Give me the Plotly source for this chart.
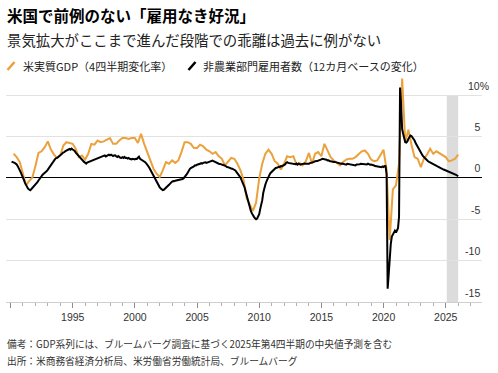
import pandas as pd
import plotly.graph_objects as go

# ---------------- data ----------------
# US real GDP, 4-quarter % change, 1990Q1 .. 2025Q4 (2025Q4 = Bloomberg survey median)
gdp_1990s = [2.9, 2.5, 1.9, 0.6, -0.9, -0.4, 0.0, 1.4, 3.0, 3.2, 3.7, 4.4,
             3.4, 2.8, 2.4, 2.7, 3.9, 4.3, 4.2, 4.1, 3.5, 2.5, 2.7, 2.2,
             2.9, 4.1, 4.0, 4.5, 4.3, 4.4, 4.6, 4.8, 4.1, 4.1, 4.5, 4.8,
             4.8, 4.7, 4.8, 4.8]
gdp_2000s = [4.2, 5.3, 4.1, 3.0, 2.2, 1.1, 0.5, 0.1, 0.9, 1.9, 1.7, 2.1,
             1.8, 2.1, 3.1, 4.3, 4.3, 4.1, 3.6, 3.6, 4.0, 3.8, 3.4, 3.2,
             2.9, 3.1, 2.6, 2.3, 1.5, 1.9, 2.4, 2.3, 1.7, 0.9, -0.3, -2.5,
             -3.3, -4.0, -3.0, -0.1]
gdp_2010s = [1.7, 2.9, 3.4, 2.9, 2.0, 1.7, 1.0, 1.7, 2.6, 2.5, 2.6, 1.6,
             1.8, 1.5, 2.0, 3.0, 1.7, 2.9, 3.1, 2.6, 4.1, 3.3, 2.5, 2.1,
             1.8, 1.5, 1.9, 2.2, 2.3, 2.3, 2.5, 2.9, 3.2, 3.3, 2.9, 2.2,
             2.0, 2.1, 2.8, 3.4]
gdp_2020s = [0.9, -7.5, -1.4, -0.9, 1.7, 12.0, 4.3, 5.8, 4.0, 2.5, 2.3, 1.3,
             2.3, 2.8, 3.5, 2.9, 3.2, 3.0, 2.7, 2.5, 2.0, 2.1, 2.3, 2.8]

# Nonfarm payrolls, 12-month % change, Jan 1990 .. Dec 2025
payroll_1990s = [
    1.95, 1.92, 1.83, 1.80, 1.71, 1.62, 1.41, 1.20, 0.92, 0.63, 0.31, 0.10,
    -0.28, -0.62, -0.88, -1.10, -1.31, -1.42, -1.50, -1.38, -1.25, -1.12, -1.02, -0.84,
    -0.70, -0.52, -0.33, -0.12, 0.08, 0.25, 0.38, 0.50, 0.58, 0.70, 0.81, 0.98,
    1.18, 1.40, 1.52, 1.78, 1.96, 2.10, 2.25, 2.38, 2.40, 2.52, 2.60, 2.72,
    2.80, 2.92, 3.08, 3.10, 3.22, 3.28, 3.30, 3.42, 3.48, 3.40, 3.52, 3.42,
    3.38, 3.25, 3.05, 2.90, 2.72, 2.58, 2.45, 2.30, 2.18, 2.02, 1.92, 1.82,
    1.72, 1.85, 1.90, 1.98, 2.02, 2.10, 2.12, 2.20, 2.18, 2.28, 2.32, 2.40,
    2.42, 2.50, 2.48, 2.58, 2.60, 2.62, 2.70, 2.58, 2.68, 2.78, 2.80, 2.72,
    2.80, 2.72, 2.62, 2.70, 2.72, 2.60, 2.52, 2.62, 2.50, 2.42, 2.40, 2.48,
    2.40, 2.52, 2.40, 2.42, 2.32, 2.40, 2.30, 2.28, 2.22, 2.30, 2.28, 2.22]
payroll_2000s = [
    2.30, 2.28, 2.42, 2.55, 2.30, 2.22, 2.18, 2.10, 2.00, 1.88, 1.75, 1.62,
    1.40, 1.20, 0.95, 0.70, 0.48, 0.28, 0.08, -0.15, -0.45, -0.70, -0.95, -1.15,
    -1.30, -1.40, -1.48, -1.45, -1.35, -1.22, -1.12, -0.98, -0.85, -0.70, -0.55, -0.45,
    -0.40, -0.42, -0.35, -0.32, -0.30, -0.28, -0.30, -0.25, -0.22, -0.15, -0.08, 0.05,
    0.22, 0.42, 0.62, 0.88, 1.05, 1.18, 1.22, 1.32, 1.38, 1.50, 1.48, 1.58,
    1.60, 1.65, 1.70, 1.78, 1.72, 1.80, 1.82, 1.88, 1.80, 1.85, 1.92, 1.95,
    2.02, 2.12, 2.08, 2.00, 1.92, 1.88, 1.80, 1.78, 1.70, 1.68, 1.62, 1.60,
    1.58, 1.52, 1.48, 1.32, 1.30, 1.28, 1.20, 1.15, 1.12, 1.10, 1.05, 0.98,
    0.88, 0.72, 0.58, 0.40, 0.20, 0.02, -0.25, -0.50, -0.80, -1.20, -1.70, -2.20,
    -2.70, -3.20, -3.62, -4.00, -4.30, -4.60, -4.72, -4.90, -5.00, -4.92, -4.70, -4.40]
payroll_2010s = [
    -3.75, -3.35, -2.70, -1.80, -1.15, -0.82, -0.45, -0.12, 0.02, 0.38, 0.58, 0.72,
    0.88, 0.92, 1.02, 1.18, 1.20, 1.28, 1.32, 1.30, 1.42, 1.40, 1.45, 1.52,
    1.62, 1.80, 1.88, 1.80, 1.78, 1.75, 1.70, 1.72, 1.68, 1.70, 1.65, 1.72,
    1.60, 1.70, 1.62, 1.58, 1.65, 1.70, 1.66, 1.72, 1.70, 1.68, 1.72, 1.70,
    1.78, 1.80, 1.88, 1.90, 1.92, 2.00, 1.98, 2.02, 2.08, 2.10, 2.18, 2.22,
    2.30, 2.28, 2.20, 2.22, 2.18, 2.10, 2.12, 2.02, 1.98, 2.00, 1.96, 1.90,
    1.92, 1.88, 1.82, 1.78, 1.70, 1.72, 1.70, 1.72, 1.68, 1.62, 1.60, 1.58,
    1.70, 1.68, 1.62, 1.60, 1.62, 1.58, 1.52, 1.58, 1.50, 1.60, 1.58, 1.60,
    1.62, 1.70, 1.68, 1.70, 1.72, 1.70, 1.68, 1.62, 1.70, 1.62, 1.58, 1.60,
    1.58, 1.50, 1.48, 1.42, 1.40, 1.38, 1.32, 1.30, 1.32, 1.28, 1.38, 1.30]
payroll_2020s = [
    1.42, 1.40, 0.40, -13.40, -11.70, -8.90, -8.00, -7.10, -6.80, -6.50, -6.40, -6.60,
    -6.35, -6.10, -4.70, 10.90, 8.80, 5.90, 5.30, 4.50, 4.30, 4.25, 4.40, 4.70,
    4.85, 5.10, 5.05, 4.90, 4.75, 4.50, 4.20, 4.00, 3.75, 3.50, 3.25, 3.05,
    2.85, 2.65, 2.50, 2.35, 2.22, 2.10, 2.00, 1.92, 1.85, 1.75, 1.70, 1.62,
    1.55, 1.50, 1.42, 1.38, 1.30, 1.25, 1.18, 1.12, 1.05, 1.00, 0.95, 0.90,
    0.88, 0.82, 0.78, 0.72, 0.66, 0.60, 0.52, 0.48, 0.42, 0.35, 0.28, 0.18]

gdp_values = gdp_1990s + gdp_2000s + gdp_2010s + gdp_2020s
payroll_values = payroll_1990s + payroll_2000s + payroll_2010s + payroll_2020s
gdp_dates = pd.date_range("1990-03-31", periods=len(gdp_values), freq="QE")
payroll_dates = pd.date_range("1990-01-31", periods=len(payroll_values), freq="ME")

y_tick_vals = [-15, -10, -5, 0, 5, 10]
y_tick_text = ["-15", "-10", "-5", "0", "5", "10%"]
x_tick_start = "1995-01-01"

title = "米国で前例のない「雇用なき好況」"
subtitle = "景気拡大がここまで進んだ段階での乖離は過去に例がない"
legend_gdp = "米実質GDP（4四半期変化率）"
legend_payroll = "非農業部門雇用者数（12カ月ベースの変化）"
note = "備考：GDP系列には、ブルームバーグ調査に基づく2025年第4四半期の中央値予測を含む"
source = "出所：米商務省経済分析局、米労働省労働統計局、ブルームバーグ"

# ---------------- style ----------------
ORANGE = "#EBA13C"
BLACK = "#000000"
JP = "Noto Sans CJK JP"
LAT = "Liberation Sans, Arial, sans-serif"

W, H = 498, 373
L, R, T, B = 6, 16, 75, 71
PW, PH = W - L - R, H - T - B


def px(x):
    return (x - L) / PW


def py(y):
    return (H - B - y) / PH


fig = go.Figure()
fig.add_trace(go.Scatter(x=gdp_dates, y=gdp_values, mode="lines",
                         line=dict(color=ORANGE, width=2), name=legend_gdp))
fig.add_trace(go.Scatter(x=payroll_dates, y=payroll_values, mode="lines",
                         line=dict(color=BLACK, width=2), name=legend_payroll))

# shaded 2025 band
fig.add_shape(type="rect", xref="x", yref="y", x0="2025-01-31", x1="2026-01-01",
              y0=-15, y1=10, fillcolor="#dcdcdc", line=dict(width=0), layer="below")

# legend swatches
fig.add_shape(type="line", xref="paper", yref="paper", x0=px(7.5), y0=py(70), x1=px(14.5), y1=py(62),
              line=dict(color=ORANGE, width=2.5))
fig.add_shape(type="line", xref="paper", yref="paper", x0=px(188.5), y0=py(70), x1=px(195.5), y1=py(62),
              line=dict(color=BLACK, width=2.5))

pad = "\u00a0\u00a0\u00a0"
fig.update_layout(
    width=W, height=H,
    margin=dict(l=L, r=R, t=T, b=B, autoexpand=False),
    paper_bgcolor="white", plot_bgcolor="white",
    showlegend=False,
    xaxis=dict(
        type="date", automargin=False,
        range=["1989-08-20", "2027-12-02"],
        tick0=x_tick_start, dtick="M60", tickformat="%Y",
        ticks="outside", ticklen=5, tickwidth=1, tickcolor="#8c8c8c",
        minor=dict(dtick="M12", tick0=x_tick_start, ticks="outside", ticklen=2.5,
                   tickwidth=1, tickcolor="#b0b0b0", showgrid=False),
        showline=True, linecolor="#cfcfcf", linewidth=1,
        showgrid=False, zeroline=False,
        tickfont=dict(family=LAT, size=10.5, color="#333333"),
    ),
    yaxis=dict(
        automargin=False,
        range=[-15, -15 + PH / 8.28],
        side="right",
        tickvals=y_tick_vals,
        ticktext=[t if t.endswith("%") else t + pad for t in y_tick_text],
        ticklabelposition="inside",
        ticklabeloverflow="allow",
        ticklabelstandoff=-10,
        ticklabelshift=-9,
        ticks="",
        showgrid=True, gridcolor="#e2e2e2", gridwidth=1,
        zeroline=True, zerolinecolor="#000000", zerolinewidth=1,
        showline=False,
        tickfont=dict(family=LAT, size=10.5, color="#333333"),
    ),
)

ann = [
    dict(text=title, x=px(5), y=py(15), font=dict(family=JP, size=15.5, color="#000000", weight="bold")),
    dict(text=subtitle, x=px(5), y=py(39.5), font=dict(family=JP, size=14.4, color="#222222")),
    dict(text=legend_gdp, x=px(20.5), y=py(65.5), font=dict(family=JP, size=11, color="#222222")),
    dict(text=legend_payroll, x=px(200.5), y=py(65.5), font=dict(family=JP, size=11, color="#222222")),
    dict(text=note, x=px(5), y=py(343.5), font=dict(family=JP, size=9.7, color="#333333")),
    dict(text=source, x=px(5), y=py(361), font=dict(family=JP, size=9.7, color="#333333")),
]
for a in ann:
    fig.add_annotation(xref="paper", yref="paper", xanchor="left", yanchor="middle",
                       showarrow=False, **a)

fig.write_html("out.html", config={"displayModeBar": False},
               post_script="document.body.style.margin='0';document.body.style.overflow='hidden';")
